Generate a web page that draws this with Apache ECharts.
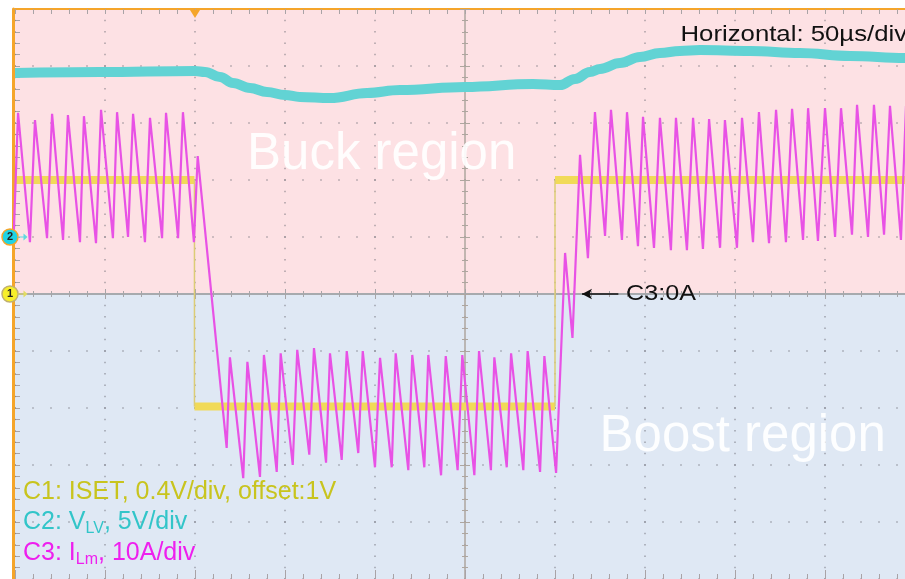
<!DOCTYPE html>
<html>
<head>
<meta charset="utf-8">
<script src="https://cdn.jsdelivr.net/npm/echarts@6.0.0/dist/echarts.min.js"></script>
<style>
html,body{margin:0;padding:0;background:#ffffff;}
#chart{width:905px;height:579px;}
</style>
</head>
<body>
<div id="chart"></div>
<script>
// ---- scope settings ----
const timePerDiv = 50;          // µs / div
const divsX = 10;
const divsY = 10;
const c1VoltsPerDiv = 0.4;      // V / div
const c1Offset = 1;             // V at screen centre
const c2VoltsPerDiv = 5;        // V / div
const c2GroundDiv = 1;          // ground marker, divs above centre
const c3AmpsPerDiv = 10;        // A / div
const triggerTime = 100;        // µs

// ---- C1: ISET (time µs, volts) ----
const c1Points = [[0,1.80],[99.7,1.80],[99.7,0.21],[300,0.21],[300,1.80],[500,1.80]];

// ---- C2: V_LV (time µs, volts) ----
const c2Points = [
  [0,14.39],[47.2,14.47],[100,14.56],[105.6,14.47],[113.9,14.04],[121.1,13.51],[130.6,13.07],
  [140,12.72],[150,12.46],[158.3,12.28],[175,12.19],[195.6,12.63],[213.9,12.89],[250,13.16],
  [287.8,13.42],[302.8,13.33],[311.1,13.86],[319.4,14.47],[325,14.74],[336.1,15.26],[347.2,15.79],
  [358.3,16.14],[369.4,16.32],[380.6,16.40],[408.3,16.32],[436.1,16.14],[463.9,15.88],[494.4,15.70],[500,15.68]
];

// ---- C3: I_Lm (time µs, amps) ----
const c3Points = [
  [-0.8,9.5],[1.7,31.8],[8.3,9.1],[11.1,30.5],[17.8,9.8],[20.6,31.6],[26.7,9.5],[29.4,31.4],
  [36.1,9.1],[38.3,31.2],[45.0,8.9],[47.8,32.3],[54.4,9.8],[56.7,31.9],[62.8,10.0],[65.6,31.6],
  [72.2,9.1],[75.0,30.9],[81.7,9.8],[83.9,31.8],[90.6,9.8],[93.3,31.9],[99.4,9.1],[101.5,24.2],
  [117.6,-27.0],[119.4,-11.1],[126.8,-32.3],[129.1,-11.9],[136.1,-32.1],[138.3,-10.7],[145.4,-31.2],
  [147.6,-10.4],[154.3,-30.0],[156.8,-9.8],[163.5,-28.2],[166.1,-9.5],[172.8,-29.6],[175.0,-10.4],
  [181.5,-29.1],[184.3,-10.0],[190.7,-27.9],[193.2,-10.0],[200.0,-30.4],[202.8,-11.2],[209.3,-30.4],
  [211.5,-10.4],[218.5,-30.9],[220.7,-10.7],[227.4,-30.4],[229.6,-10.7],[236.7,-31.8],[239.3,-10.9],
  [245.9,-30.9],[248.5,-10.7],[255.2,-31.8],[257.8,-10.0],[264.4,-30.9],[266.3,-11.1],[273.2,-30.4],
  [275.6,-10.4],[282.4,-30.9],[284.8,-10.0],[291.7,-31.2],[294.1,-10.9],[300.6,-31.4],
  [305.6,7.2],[309.7,-7.7],[313.9,24.4],[318.3,6.3],[322.2,31.9],[327.8,10.2],[331.1,32.3],
  [337.2,9.5],[340.0,31.9],[346.1,8.4],[348.9,31.1],[355.0,8.1],[358.3,30.9],[364.4,7.7],
  [367.2,30.9],[373.3,7.7],[376.7,30.9],[382.2,7.9],[385.6,30.7],[391.7,8.1],[394.4,30.5],
  [401.1,8.1],[403.9,30.9],[410.0,9.1],[413.3,31.9],[418.9,8.9],[422.8,32.3],[428.3,9.1],
  [431.7,32.5],[437.8,9.5],[440.6,32.6],[446.1,9.3],[450.0,32.6],[455.6,10.0],[458.9,32.6],
  [465.0,10.4],[467.8,33.2],[473.9,10.0],[477.2,33.2],[482.8,10.4],[486.1,33.0],[492.2,9.5],
  [495.0,33.0],[501.1,9.5]
];

// ---- annotation arrow for C3 zero (time µs) ----
const c3ZeroArrow = [315.0, 335.2];

// ---- texts ----
const regionLabels = ['Buck region', 'Boost region'];
const horizontalLabel = 'Horizontal: 50µs/div';
const zeroLabel = 'C3:0A';
const legendTexts = ['C1: ISET, 0.4V/div, offset:1V', 'C2: V{sub|LV}, 5V/div', 'C3: I{sub|Lm}, 10A/div'];
const channelMarkers = ['1', '2'];

// ---- derived axis ranges ----
const tMin = 0, tMax = timePerDiv * divsX;
const c3Min = -c3AmpsPerDiv * divsY / 2, c3Max = c3AmpsPerDiv * divsY / 2;
const c2Min = -(divsY / 2 + c2GroundDiv) * c2VoltsPerDiv, c2Max = (divsY / 2 - c2GroundDiv) * c2VoltsPerDiv;
const c1Min = c1Offset - c1VoltsPerDiv * divsY / 2, c1Max = c1Offset + c1VoltsPerDiv * divsY / 2;

const FONT = '"Liberation Sans", Arial, sans-serif';
const dotColor = 'rgba(105,105,115,0.55)';
const tickColor = '#a9a3a6';

function hiddenAxisParts() {
  return { axisLabel:{show:false}, axisTick:{show:false}, axisLine:{show:false, onZero:false},
           splitLine:{show:false}, minorTick:{show:false} };
}

const xBase = { type:'value', min:tMin, max:tMax, interval:timePerDiv, gridIndex:0 };
const xAxes = [
  Object.assign({}, xBase, hiddenAxisParts(), { // bottom edge + vertical dotted grid
    position:'bottom', z:1,
    axisLine:{show:true, onZero:false, lineStyle:{color:'#cbbb98', width:1}},
    axisTick:{show:true, inside:true, length:9, lineStyle:{color:tickColor, width:1}},
    minorTick:{show:true, splitNumber:5, length:5, lineStyle:{color:tickColor, width:1}},
    splitLine:{show:true, lineStyle:{color:dotColor, width:1.5, type:[1.5, 9.9], dashOffset:0.75}}
  }),
  Object.assign({}, xBase, hiddenAxisParts(), { // top edge
    position:'top', z:1,
    axisLine:{show:true, onZero:false, lineStyle:{color:'#f5a52a', width:2}},
    axisTick:{show:true, inside:true, length:5, lineStyle:{color:tickColor, width:1}},
    minorTick:{show:true, splitNumber:5, length:5, lineStyle:{color:tickColor, width:1}}
  }),
  Object.assign({}, xBase, hiddenAxisParts(), { // centre horizontal (upward ticks)
    position:'bottom', offset:-285, z:1,
    axisLine:{show:true, onZero:false, lineStyle:{color:'#a7aaae', width:2}},
    axisTick:{show:true, inside:true, length:5, lineStyle:{color:'#a7a5a8', width:1}},
    minorTick:{show:true, splitNumber:5, length:3, lineStyle:{color:'#a7a5a8', width:1}}
  }),
  Object.assign({}, xBase, hiddenAxisParts(), { // centre horizontal (downward ticks)
    position:'bottom', offset:-285, z:1,
    axisTick:{show:true, inside:false, length:5, lineStyle:{color:'#a7a5a8', width:1}},
    minorTick:{show:true, splitNumber:5, length:3, lineStyle:{color:'#a7a5a8', width:1}}
  })
];

const yC3 = { type:'value', min:c3Min, max:c3Max, interval:c3AmpsPerDiv, gridIndex:0 };
const bgColors = ['#dfe8f4','#dfe8f4','#dfe8f4','#dfe8f4','#dfe8f4','#fde1e4','#fde1e4','#fde1e4','#fde1e4','#fde1e4'];
const yAxes = [
  Object.assign({}, yC3, hiddenAxisParts(), { // 0: C3, left edge ticks, horizontal dots, background
    position:'left', z:0,
    axisTick:{show:true, inside:true, length:5, lineStyle:{color:tickColor, width:1}},
    minorTick:{show:true, splitNumber:5, length:5, lineStyle:{color:tickColor, width:1}},
    splitLine:{show:true, lineStyle:{color:dotColor, width:1.5, type:[1.5, 16.5], dashOffset:0.75}},
    splitArea:{show:true, areaStyle:{color:bgColors}}
  }),
  Object.assign({}, yC3, hiddenAxisParts(), { // 1: orange left border
    position:'left', offset:1.5, z:1,
    axisLine:{show:true, onZero:false, lineStyle:{color:'#f5a52a', width:3}}
  }),
  Object.assign({}, yC3, hiddenAxisParts(), { // 2: centre vertical (right ticks)
    position:'left', offset:-450, z:1,
    axisLine:{show:true, onZero:false, lineStyle:{color:'#aea69f', width:1.5}},
    axisTick:{show:true, inside:true, length:5, lineStyle:{color:'#aea69f', width:1}},
    minorTick:{show:true, splitNumber:5, length:3, lineStyle:{color:'#aea69f', width:1}}
  }),
  Object.assign({}, yC3, hiddenAxisParts(), { // 3: centre vertical (left ticks)
    position:'left', offset:-450, z:1,
    axisTick:{show:true, inside:false, length:5, lineStyle:{color:'#aea69f', width:1}},
    minorTick:{show:true, splitNumber:5, length:3, lineStyle:{color:'#aea69f', width:1}}
  }),
  Object.assign({ type:'value', min:c2Min, max:c2Max, gridIndex:0, position:'left' }, hiddenAxisParts()), // 4: C2
  Object.assign({ type:'value', min:c1Min, max:c1Max, gridIndex:0, position:'left' }, hiddenAxisParts())  // 5: C1
];

// C1 split into flat (thick) parts and edges (thin)
const c1Flats = [], c1Edges = [];
for (let i = 0; i < c1Points.length - 1; i++) {
  const p = c1Points[i], q = c1Points[i + 1];
  if (p[1] === q[1]) c1Flats.push([p, q]); else c1Edges.push([p, q]);
}

const arrowPath = 'path://M0,3 L6,3 L6,0 L10,3.5 L6,7 L6,4 L0,4 Z';

const series = [];
series.push({
  name:'C2', type:'line', xAxisIndex:0, yAxisIndex:4, data:c2Points, showSymbol:false,
  smooth:0.4, smoothMonotone:'x', z:2, silent:true,
  lineStyle:{color:'#62d3d4', width:10},
  markPoint:{
    silent:true, animation:false,
    data:[
      { coord:[tMin, 0], symbol:'circle', symbolSize:16, symbolOffset:[-5,0],
        itemStyle:{color:'#1fd3e4', borderColor:'#f5a52a', borderWidth:1.5},
        label:{show:true, formatter:channelMarkers[1], color:'#222', fontSize:11, fontFamily:FONT, fontWeight:'bold'} },
      { coord:[tMin, 0], symbol:arrowPath, symbolSize:[10,7], symbolOffset:[7.5,0],
        itemStyle:{color:'#5fd8df'}, label:{show:false} }
    ]
  }
});
c1Flats.forEach((seg, i) => {
  const s = {
    name:'C1', type:'line', xAxisIndex:0, yAxisIndex:5, data:seg, showSymbol:false, z:3, silent:true,
    lineStyle:{color:'#f1da58', width:8}
  };
  if (i === 0) {
    s.markPoint = {
      silent:true, animation:false,
      data:[
        { coord:[tMin, c1Offset], symbol:'circle', symbolSize:16, symbolOffset:[-5,0],
          itemStyle:{color:'#f7ef2a', borderColor:'#c0b070', borderWidth:1.5},
          label:{show:true, formatter:channelMarkers[0], color:'#222', fontSize:11, fontFamily:FONT, fontWeight:'bold'} },
        { coord:[tMin, c1Offset], symbol:arrowPath, symbolSize:[10,7], symbolOffset:[7.5,0],
          itemStyle:{color:'#e2dc62'}, label:{show:false} },
        { coord:[triggerTime, c1Max], symbol:'triangle', symbolRotate:180, symbolSize:[10,8], symbolOffset:[0,5],
          itemStyle:{color:'#f5a52a'}, label:{show:false} }
      ]
    };
  }
  series.push(s);
});
c1Edges.forEach(seg => {
  series.push({
    name:'C1', type:'line', xAxisIndex:0, yAxisIndex:5, data:seg, showSymbol:false, z:3, silent:true,
    lineStyle:{color:'#dccc76', width:1.5}
  });
});
series.push({
  name:'C3', type:'line', xAxisIndex:0, yAxisIndex:0, data:c3Points, showSymbol:false, z:4, silent:true,
  lineStyle:{color:'#e852e5', width:2.2},
  markLine:{
    silent:true, animation:false, symbol:['arrow','none'], symbolSize:[8,10],
    lineStyle:{color:'#111', width:1.5, type:'solid'}, label:{show:false},
    data:[[{coord:[c3ZeroArrow[0], 0]}, {coord:[c3ZeroArrow[1], 0]}]]
  }
});

const legendColors = ['#c8c41e', '#32c5c9', '#ee1fee'];
const graphic = [
  { type:'text', x:247, y:155, z:5, style:{ text:regionLabels[0], font:'51px ' + FONT, fill:'rgba(255,255,255,0.92)', verticalAlign:'middle', align:'left' } },
  { type:'text', x:599.5, y:437, z:5, style:{ text:regionLabels[1], font:'51px ' + FONT, fill:'rgba(255,255,255,0.92)', verticalAlign:'middle', align:'left' } },
  { type:'text', x:680.5, y:34.5, scaleX:1.17, z:5, style:{ text:horizontalLabel, font:'22px ' + FONT, fill:'#111', verticalAlign:'middle', align:'left' } },
  { type:'text', x:626, y:294.5, scaleX:1.17, z:5, style:{ text:zeroLabel, font:'21.5px ' + FONT, fill:'#111', verticalAlign:'middle', align:'left' } }
];
legendTexts.forEach((t, i) => {
  graphic.push({
    type:'text', x:23, y:[492.3, 522.3, 553.3][i], z:6,
    style:{
      text:t, font:'25px ' + FONT, fill:legendColors[i], verticalAlign:'middle', align:'left', lineHeight:30,
      rich:{ sub:{ fontSize:16, fontFamily:FONT, fill:legendColors[i], padding:[12,0,0,0], lineHeight:30 } }
    }
  });
});

const chart = echarts.init(document.getElementById('chart'), null, {renderer:'canvas'});
chart.setOption({
  animation:false,
  backgroundColor:'#ffffff',
  grid:{ left:15, top:9, width:900, height:570, show:false, containLabel:false, outerBoundsMode:'none' },
  xAxis:xAxes,
  yAxis:yAxes,
  series:series,
  graphic:graphic
});
</script>
</body>
</html>
